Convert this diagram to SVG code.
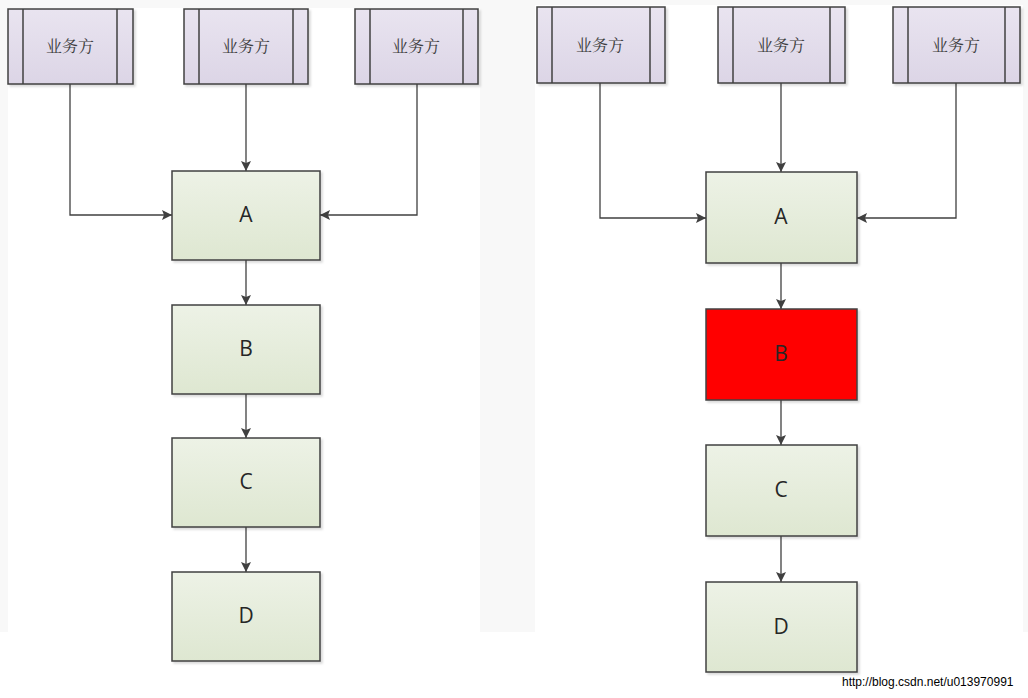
<svg xmlns="http://www.w3.org/2000/svg" width="1028" height="698" viewBox="0 0 1028 698">
<defs>
<linearGradient id="gp" x1="0" y1="0" x2="0" y2="1"><stop offset="0" stop-color="#e9e4f0"/><stop offset="1" stop-color="#dcd5e6"/></linearGradient>
<linearGradient id="gg" x1="0" y1="0" x2="0" y2="1"><stop offset="0" stop-color="#edf2e6"/><stop offset="1" stop-color="#dee7d1"/></linearGradient>
<marker id="ar" viewBox="0 0 10 10" refX="10" refY="5" markerWidth="10" markerHeight="10" markerUnits="userSpaceOnUse" orient="auto"><path d="M0,0 L10,5 L0,10 L2,5 Z" fill="#404040"/></marker>
<filter id="sh" x="-5%" y="-5%" width="115%" height="115%"><feDropShadow dx="2" dy="2" stdDeviation="1.2" flood-color="#000" flood-opacity="0.15"/></filter>
</defs>
<style>
.p{fill:url(#gp);stroke:#404040;stroke-width:1.5;filter:url(#sh)}
.pl{stroke:#404040;stroke-width:1.5}
.g{fill:url(#gg);stroke:#404040;stroke-width:1.5;filter:url(#sh)}
.r{fill:#ff0000;stroke:#404040;stroke-width:1.5;filter:url(#sh)}
.t1{font-family:"Noto Serif CJK SC","Noto Sans CJK SC",serif;font-size:16px;fill:#3c3c3c;text-anchor:middle}
.t2{font-family:"Open Sans","Liberation Sans",sans-serif;font-size:21px;fill:#262626;text-anchor:middle}
.c{fill:none;stroke:#404040;stroke-width:1.3;marker-end:url(#ar)}
</style>
<rect width="1028" height="698" fill="#ffffff"/>
<rect x="0" y="0" width="1028" height="632" fill="#f8f8f8"/>
<rect x="8" y="8" width="472" height="624" fill="#ffffff"/>
<rect x="535" y="5" width="488" height="627" fill="#ffffff"/>

<g id="connectors">
<path class="c" d="M70,84 V215 H172"/>
<path class="c" d="M246,84 V171"/>
<path class="c" d="M417,84 V215 H320"/>
<path class="c" d="M246,260 V305"/>
<path class="c" d="M246,394 V438"/>
<path class="c" d="M246,527 V572"/>
<path class="c" d="M600,83 V218 H706"/>
<path class="c" d="M781,83 V172"/>
<path class="c" d="M956,83 V218 H857"/>
<path class="c" d="M781,263 V309"/>
<path class="c" d="M781,400 V445"/>
<path class="c" d="M781,536 V582"/>
</g>

<g id="p1"><rect class="p" x="8" y="9" width="125" height="75"/><line class="pl" x1="23" y1="9" x2="23" y2="84"/><line class="pl" x1="117" y1="9" x2="117" y2="84"/><text class="t1" x="70" y="52">业务方</text></g>
<g id="p2"><rect class="p" x="184" y="9" width="124" height="75"/><line class="pl" x1="199" y1="9" x2="199" y2="84"/><line class="pl" x1="293" y1="9" x2="293" y2="84"/><text class="t1" x="246" y="52">业务方</text></g>
<g id="p3"><rect class="p" x="355" y="9" width="123" height="75"/><line class="pl" x1="370" y1="9" x2="370" y2="84"/><line class="pl" x1="463" y1="9" x2="463" y2="84"/><text class="t1" x="416" y="52">业务方</text></g>

<g id="A1"><rect class="g" x="172" y="171" width="148" height="89"/><text class="t2" x="246" y="222">A</text></g>
<g id="B1"><rect class="g" x="172" y="305" width="148" height="89"/><text class="t2" x="246" y="356">B</text></g>
<g id="C1"><rect class="g" x="172" y="438" width="148" height="89"/><text class="t2" x="246" y="489">C</text></g>
<g id="D1"><rect class="g" x="172" y="572" width="148" height="89"/><text class="t2" x="246" y="623">D</text></g>

<g id="p4"><rect class="p" x="537" y="7" width="128" height="76"/><line class="pl" x1="552" y1="7" x2="552" y2="83"/><line class="pl" x1="650" y1="7" x2="650" y2="83"/><text class="t1" x="600" y="51">业务方</text></g>
<g id="p5"><rect class="p" x="718" y="7" width="127" height="76"/><line class="pl" x1="733" y1="7" x2="733" y2="83"/><line class="pl" x1="830" y1="7" x2="830" y2="83"/><text class="t1" x="781" y="51">业务方</text></g>
<g id="p6"><rect class="p" x="893" y="7" width="127" height="76"/><line class="pl" x1="908" y1="7" x2="908" y2="83"/><line class="pl" x1="1005" y1="7" x2="1005" y2="83"/><text class="t1" x="956" y="51">业务方</text></g>

<g id="A2"><rect class="g" x="706" y="172" width="151" height="91"/><text class="t2" x="781" y="224">A</text></g>
<g id="B2"><rect class="r" x="706" y="309" width="151" height="91"/><text class="t2" x="781" y="361">B</text></g>
<g id="C2"><rect class="g" x="706" y="445" width="151" height="91"/><text class="t2" x="781" y="497">C</text></g>
<g id="D2"><rect class="g" x="706" y="582" width="151" height="90"/><text class="t2" x="781" y="634">D</text></g>

<text x="842" y="686" font-family="Liberation Sans, Arial, sans-serif" font-size="12" fill="#000">http://blog.csdn.net/u013970991</text>
</svg>
